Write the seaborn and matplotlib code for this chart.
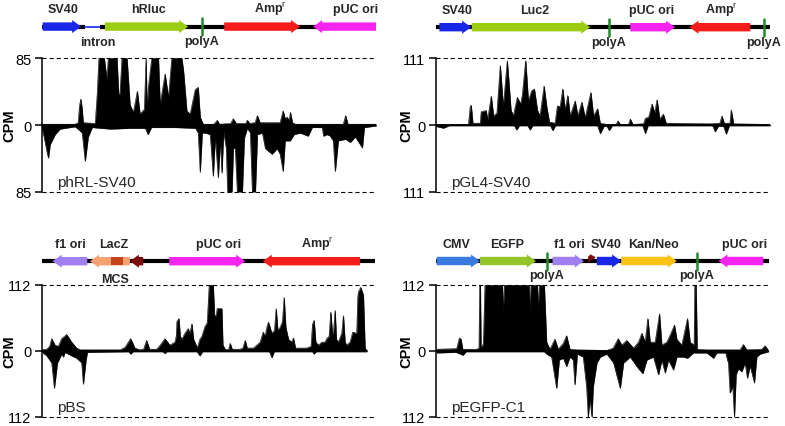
import numpy as np
import matplotlib
matplotlib.use("Agg")
import matplotlib.pyplot as plt
import seaborn as sns
from matplotlib.patches import Polygon, Rectangle

# ------------------------------------------------------------------
# coverage: (position in % of plasmid length, CPM)
# forward strand is drawn up, reverse strand down

phrl_fwd = [(0, 1), (10, 1), (10.9, 3), (11.3, 25), (11.7, 33), (12.1, 20), (12.4, 3), (16.0, 2),
            (16.6, 40), (17.1, 85), (18.7, 85), (19.5, 58), (19.9, 85), (22.5, 85), (23.0, 39),
            (23.4, 40), (24.0, 85), (25.5, 85), (26.4, 26), (27.4, 16), (28.6, 43), (29.4, 14),
            (30.7, 20), (31.2, 85), (31.5, 20), (31.9, 48), (32.9, 85), (34.9, 85), (35.4, 26),
            (36.9, 65), (37.9, 35), (38.9, 85), (41.9, 85), (42.4, 69), (43.4, 18), (44.4, 14),
            (45.9, 45), (46.8, 48), (47.4, 10), (48.3, 1), (51.5, 1), (52.5, 6), (53.2, 1),
            (56.5, 2), (57.3, 8), (58.2, 2), (61.0, 2), (61.5, 6), (62.2, 2), (63.8, 3), (64.5, 12),
            (65.3, 3), (71.3, 3), (72.2, 18), (72.8, 8), (73.4, 10), (74.0, 6), (74.4, 16), (75.0, 3),
            (75.9, 1), (90.2, 1), (90.9, 12), (91.6, 1), (100, 1)]
phrl_rev = [(0, -3), (0.7, -15), (1.6, -35), (2.0, -42), (2.5, -25), (4.0, -12), (5.5, -5), (10, -2),
            (12.1, -10), (13.0, -46), (13.9, -15), (15.1, -3), (20.5, -5), (26.4, -4), (31.0, -4),
            (31.8, -12), (32.8, -3), (39.9, -3), (46.0, -4), (46.8, -10), (47.4, -60), (48.0, -10),
            (48.9, -10), (50.4, -12), (51.3, -65), (51.9, -15), (52.8, -67), (53.4, -20), (53.9, -61),
            (54.4, -8), (55.2, -30), (55.6, -85), (56.9, -85), (57.3, -29), (57.9, -30), (58.5, -85),
            (60.0, -85), (60.6, -16), (61.5, -4), (62.4, -10), (63.0, -85), (63.9, -85), (64.5, -12),
            (66.0, -10), (66.9, -30), (68.9, -37), (70.4, -30), (71.3, -37), (72.2, -59), (72.8, -20),
            (74.3, -20), (75.5, -12), (77.3, -10), (79.7, -14), (80.9, -3), (83.9, -3), (84.3, -14),
            (85.4, -12), (86.3, -14), (87.2, -20), (87.8, -59), (88.7, -20), (90.9, -18), (92.3, -22),
            (93.8, -15), (95.3, -25), (95.9, -29), (96.5, -3), (100, -1)]

pgl4_fwd = [(0, 1), (9.8, 1), (10.3, 30), (10.6, 33), (11.1, 3), (13.3, 3), (13.6, 22), (15.1, 24),
            (15.5, 8), (16.6, 48), (17.3, 15), (18.3, 20), (19.3, 99), (20.2, 30), (21.4, 107),
            (22.5, 25), (23.2, 15), (24.4, 46), (25.4, 35), (25.9, 50), (26.9, 107), (27.7, 40),
            (28.7, 57), (29.5, 60), (30.4, 25), (31.2, 15), (32.4, 65), (33.2, 30), (34.0, 5),
            (35.7, 3), (36.4, 32), (37.2, 30), (38.0, 60), (38.7, 25), (39.5, 49), (40.2, 15),
            (41.7, 40), (42.5, 15), (43.7, 38), (44.7, 12), (46.4, 54), (47.2, 15), (48.4, 27),
            (49.2, 3), (51.2, 1), (54.0, 1), (54.5, 7), (55.2, 1), (57.7, 1), (58.2, 10), (59.0, 1),
            (62.2, 2), (62.7, 11), (63.7, 13), (64.7, 35), (65.5, 20), (66.2, 42), (67.0, 10),
            (68.1, 18), (68.9, 3), (82.1, 2), (85.0, 3), (85.6, 15), (86.3, 3), (88.0, 3), (88.4, 25),
            (89.1, 2), (100, 1)]
pgl4_rev = [(0, -2), (2.3, -5), (4.0, -1), (23.5, -1), (24.2, -8), (25.0, -1), (27.5, -1), (28.2, -8),
            (29.0, -1), (34.3, -1), (35.0, -9), (35.8, -1), (48.4, -1), (49.2, -14), (50.3, -2),
            (51.2, -2), (51.9, -9), (52.8, -1), (61.9, -1), (62.7, -14), (63.5, -1), (82.8, -1),
            (83.6, -11), (84.5, -2), (86.1, -2), (86.9, -15), (87.8, -1), (100, -1)]

pbs_fwd = [(0.1, 2), (1.4, 3), (2.3, 8), (2.9, 21), (3.9, 10), (4.9, 8), (5.9, 21), (7.4, 28),
           (8.9, 15), (10.4, 5), (11.5, 2), (23.4, 2), (24.9, 6), (26.6, 21), (27.9, 5), (29.4, 2),
           (30.5, 3), (31.4, 18), (32.3, 3), (34.4, 3), (35.5, 10), (36.9, 21), (38.4, 10), (39.9, 15),
           (40.3, 25), (40.5, 50), (41.1, 55), (41.5, 25), (42.0, 20), (42.9, 30), (43.9, 38),
           (44.4, 30), (45.0, 46), (45.5, 20), (45.9, 15), (46.6, 5), (47.4, 20), (48.0, 25),
           (48.9, 41), (49.6, 48), (50.2, 112), (51.4, 112), (51.8, 60), (52.3, 60), (52.6, 72),
           (54.0, 72), (54.3, 10), (55.0, 3), (56.0, 2), (56.5, 13), (57.1, 3), (59.5, 3), (60.3, 5),
           (61.0, 18), (61.6, 5), (63.5, 5), (64.5, 10), (65.5, 15), (66.4, 32), (67.0, 25), (67.5, 40),
           (68.0, 49), (69.0, 30), (69.8, 35), (70.3, 72), (70.8, 35), (71.5, 40), (72.2, 50),
           (72.7, 91), (73.2, 40), (74.0, 20), (75.0, 15), (75.5, 22), (76.1, 5), (79.5, 5), (80.8, 8),
           (81.2, 45), (81.7, 52), (82.2, 15), (83.0, 10), (84.0, 15), (85.0, 15), (85.5, 21),
           (86.2, 25), (86.7, 66), (87.2, 30), (87.5, 30), (88.0, 69), (88.4, 20), (89.0, 15),
           (90.0, 30), (90.5, 60), (91.0, 15), (91.5, 10), (92.5, 15), (93.3, 32), (94.5, 30),
           (94.8, 90), (95.0, 100), (95.7, 108), (96.5, 95), (97.0, 5), (97.5, 1)]
pbs_rev = [(0.1, -2), (1.4, -8), (2.9, -20), (3.7, -63), (4.6, -20), (5.9, -5), (6.4, -10), (6.9, -2),
           (8.9, -8), (10.4, -12), (11.9, -20), (12.4, -56), (13.2, -15), (13.6, -2), (26.0, -1),
           (26.6, -5), (27.3, -1), (36.3, -1), (36.9, -4), (37.5, -1), (46.5, -1), (47.4, -8),
           (48.2, -1), (68.3, -1), (69.0, -11), (69.7, -1), (81.2, -1), (81.7, -5), (82.3, -1),
           (97.5, -1)]

pegfp_fwd = [(0.2, 3), (6.2, 4), (7.0, 22), (7.5, 20), (8.0, 3), (12.2, 3), (12.9, 5), (13.1, 112),
             (13.3, 112), (13.5, 5), (14.2, 12), (14.7, 112), (19.9, 112), (20.2, 66), (20.5, 112),
             (27.9, 112), (28.2, 70), (28.5, 112), (30.4, 112), (30.7, 70), (31.0, 112), (32.5, 112),
             (33.2, 15), (34.2, 3), (35.7, 20), (36.7, 3), (38.2, 13), (39.2, 26), (40.2, 3),
             (42.3, 2), (51.3, 1), (53.2, 5), (54.7, 21), (55.8, 10), (57.3, 18), (59.3, 5), (60.8, 15),
             (61.8, 30), (62.8, 15), (63.6, 55), (64.3, 15), (65.8, 15), (67.1, 63), (67.8, 10),
             (69.3, 15), (70.3, 27), (71.6, 44), (72.3, 20), (73.8, 10), (75.5, 55), (76.3, 15),
             (77.5, 10), (77.7, 112), (78.1, 112), (78.4, 3), (81.3, 2), (91.3, 2), (92.3, 11),
             (93.3, 2), (97.8, 3), (98.8, 9), (99.8, 1)]
pegfp_rev = [(0.2, -3), (6, -2), (8.1, -7), (9, -1), (32.5, -1), (33.2, -5), (34.7, -10), (36.2, -63),
             (37.0, -15), (38.2, -12), (39.2, -26), (40.2, -10), (41.2, -15), (41.7, -57), (42.4, -5),
             (44.2, -10), (45.2, -60), (45.7, -112), (46.2, -80), (46.8, -112), (47.2, -60),
             (48.3, -20), (49.3, -10), (51.3, -5), (53.3, -20), (55.3, -63), (56.3, -20), (58.3, -10),
             (60.8, -30), (62.1, -38), (63.3, -15), (65.3, -10), (66.8, -40), (67.8, -15), (68.8, -37),
             (69.8, -15), (71.3, -32), (72.3, -10), (74.3, -10), (75.5, -12), (77.3, -3), (81.3, -3),
             (83.3, -12), (84.3, -3), (87.0, -3), (87.5, -15), (87.8, -20), (88.3, -71), (89.1, -60),
             (89.6, -112), (90.1, -40), (90.8, -30), (91.8, -35), (92.8, -20), (93.5, -46), (94.3, -25),
             (95.6, -54), (96.3, -10), (97.3, -5), (99.8, -1)]

# ------------------------------------------------------------------
# plasmid maps: feature, start/end (% of length), strand, label centre

phrl_feat = ['SV40', 'hRluc', r'Amp$^\mathrm{r}$', 'pUC ori']
phrl_kind = ['sv40', 'luc', 'amp', 'ori']
phrl_start = [0.3, 18.9, 54.6, 81.2]
phrl_end = [11.8, 43.8, 77.3, 100]
phrl_strand = [1, 1, 1, -1]
phrl_label_at = [6.4, 31.8, 68.4, 93.8]
phrl_polya = [47.9]
phrl_intron = (13.1, 17.5)
phrl_intron_label_at = 16.9

pgl4_feat = ['SV40', 'Luc2', 'pUC ori', r'Amp$^\mathrm{r}$']
pgl4_kind = ['sv40', 'luc', 'ori', 'amp']
pgl4_start = [1.1, 10.8, 58.2, 75.9]
pgl4_end = [10.6, 46.2, 71.6, 94.1]
pgl4_strand = [1, 1, 1, -1]
pgl4_label_at = [6.3, 29.7, 64.7, 85.6]
pgl4_polya = [51.7, 98.2]

pbs_feat = ['f1 ori', 'LacZ', '', 'pUC ori', r'Amp$^\mathrm{r}$']
pbs_kind = ['f1', 'lacz', 'plac', 'ori', 'amp']
pbs_start = [3.2, 14.4, 26.4, 38.2, 66.3]
pbs_end = [13.6, 26.4, 30.4, 61.0, 95.5]
pbs_strand = [-1, -1, -1, 1, -1]
pbs_label_at = [8.6, 21.6, 28.4, 53.0, 82.6]
pbs_mcs = (20.7, 24.4)

pegfp_feat = ['CMV', 'EGFP', 'f1 ori', 'SV40', 'Kan/Neo', 'pUC ori']
pegfp_kind = ['cmv', 'egfp', 'f1', 'sv40', 'kan', 'ori']
pegfp_start = [0.2, 13.2, 35.0, 48.3, 55.6, 84.8]
pegfp_end = [13.2, 30.0, 44.4, 55.6, 72.3, 98.3]
pegfp_strand = [1, 1, 1, 1, 1, -1]
pegfp_label_at = [6.2, 21.4, 40.2, 51.0, 65.2, 92.8]
pegfp_polya = [33.2, 78.3]
pegfp_promoter = 45.8

colours = {'sv40': '#1a26e6', 'cmv': '#3a7ae0', 'luc': '#9acd12', 'egfp': '#93c42a',
           'amp': '#f51c1c', 'ori': '#f524ef', 'f1': '#a07ff0', 'lacz': '#f5a273',
           'plac': '#7a0a0a', 'kan': '#fcc314', 'mcs': '#c4421c', 'polya': '#1e8a28'}

sns.set_theme(style="white")
plt.rcParams['font.family'] = ['Liberation Sans', 'DejaVu Sans']
plt.rcParams['mathtext.fontset'] = 'custom'
plt.rcParams['mathtext.rm'] = 'Liberation Sans'
plt.rcParams['mathtext.bf'] = 'Liberation Sans:bold'

W, H = 785, 427
fig = plt.figure(figsize=(W / 100, H / 100), dpi=100)


def px_axes(left, top, right, bottom):
    return fig.add_axes([left / W, 1 - bottom / H, (right - left) / W, (bottom - top) / H])


def arrow(ax, start, end, strand, y, colour, unit):
    head = min(9 / unit, end - start)
    body, hh = 4.2, 6.5
    if strand > 0:
        xs = [start, end - head, end - head, end, end - head, end - head, start]
    else:
        xs = [end, start + head, start + head, start, start + head, start + head, end]
    ys = [y - body, y - body, y - hh, y, y + hh, y + body, y + body]
    ax.add_patch(Polygon(list(zip(xs, ys)), closed=True, fc=colour, ec='none', zorder=3))


def draw_map(ax, y, feats, kinds, starts, ends, strands, label_at, polya,
             intron=None, intron_label_at=None, unit=3.34):
    ax.set_xlim(0, 100)
    ax.axis('off')
    if intron:
        ax.plot([0, intron[0]], [y, y], color='black', lw=3, solid_capstyle='butt', zorder=2)
        ax.plot([intron[1], 100], [y, y], color='black', lw=3, solid_capstyle='butt', zorder=2)
        ax.plot(intron, [y, y], color=colours['sv40'], lw=1.2, zorder=2)
        ax.text(intron_label_at, y + 18.5, 'intron', ha='center', va='baseline',
                fontsize=9, fontweight='bold')
    else:
        ax.plot([0, 100], [y, y], color='black', lw=3, solid_capstyle='butt', zorder=2)
    for f, k, s, e, d, lx in zip(feats, kinds, starts, ends, strands, label_at):
        arrow(ax, s, e, d, y, colours[k], unit)
        if f:
            ax.text(lx, y - 14.2, f, ha='center', va='baseline', fontsize=9, fontweight='bold')
    for p in polya:
        ax.plot([p, p], [y - 8.5, y + 8.5], color=colours['polya'], lw=1.8, zorder=4)
        ax.text(p, y + 17.5, 'polyA', ha='center', va='baseline', fontsize=9, fontweight='bold')


def draw_track(ax, fwd, rev, ymax, name, label_x):
    fwd_pos, fwd_cpm = zip(*fwd)
    rev_pos, rev_cpm = zip(*rev)
    ax.fill_between(fwd_pos, 0, fwd_cpm, color='black', lw=0.3, zorder=2)
    ax.fill_between(rev_pos, rev_cpm, 0, color='black', lw=0.3, zorder=2)
    sns.lineplot(x=list(fwd_pos), y=list(fwd_cpm), ax=ax, color='black', lw=0.4, zorder=2)
    sns.lineplot(x=list(rev_pos), y=list(rev_cpm), ax=ax, color='black', lw=0.4, zorder=2)
    ax.plot([0, max(fwd_pos[-1], rev_pos[-1])], [0, 0], color='black', lw=1.2, zorder=3)
    for yv in (ymax, -ymax):
        ax.plot([0, 100], [yv, yv], color='black', lw=0.8, ls=(0, (3.7, 2.7)),
                clip_on=False, zorder=1)
    ax.set_xlim(0, 100)
    ax.set_ylim(-ymax, ymax)
    ax.set_xticks([])
    ax.set_yticks([-ymax, 0, ymax])
    ax.set_yticklabels([str(ymax), '0', str(ymax)])
    sns.despine(ax=ax, bottom=True)
    ax.spines['left'].set_color('black')
    ax.spines['left'].set_linewidth(1.1)
    ax.tick_params(axis='y', left=True, length=5, width=1.1, pad=2.5,
                   labelsize=10.5, colors='black')
    ax.set_ylabel('CPM', fontsize=10.5, fontweight='bold', color='black')
    ax.yaxis.set_label_coords(label_x, 0.5)
    ax.text(0.045, 0.045, name, transform=ax.transAxes, fontsize=11, va='baseline')
    ax.set_facecolor('none')


# top left: phRL-SV40
m = px_axes(41.7, 0, 376, 55)
m.set_ylim(55, 0)
draw_map(m, 27.6, phrl_feat, phrl_kind, phrl_start, phrl_end, phrl_strand,
         phrl_label_at, phrl_polya, intron=phrl_intron, intron_label_at=phrl_intron_label_at)
a = px_axes(41.7, 59.3, 376, 192.7)
draw_track(a, phrl_fwd, phrl_rev, 85, 'phRL-SV40', -0.076)

# top right: pGL4-SV40
m = px_axes(435.7, 0, 770, 55)
m.set_ylim(55, 0)
draw_map(m, 28.2, pgl4_feat, pgl4_kind, pgl4_start, pgl4_end, pgl4_strand,
         pgl4_label_at, pgl4_polya)
a = px_axes(435.7, 59.3, 770, 192.7)
draw_track(a, pgl4_fwd, pgl4_rev, 111, 'pGL4-SV40', -0.068)

# bottom left: pBS
m = px_axes(42, 228, 375, 285)
m.set_ylim(285, 228)
draw_map(m, 262.2, pbs_feat, pbs_kind, pbs_start, pbs_end, pbs_strand,
         pbs_label_at, [], unit=3.33)
m.add_patch(Rectangle((pbs_mcs[0], 262.2 - 4.2), pbs_mcs[1] - pbs_mcs[0], 8.4,
                      fc=colours['mcs'], ec='none', zorder=4))
m.text(sum(pbs_mcs) / 2 - 0.5, 283, 'MCS', ha='center', va='baseline', fontsize=9,
       fontweight='bold')
a = px_axes(42, 286, 375, 418)
draw_track(a, pbs_fwd, pbs_rev, 112, 'pBS', -0.078)

# bottom right: pEGFP-C1
m = px_axes(436, 228, 769, 285)
m.set_ylim(285, 228)
draw_map(m, 262, pegfp_feat, pegfp_kind, pegfp_start, pegfp_end, pegfp_strand,
         pegfp_label_at, pegfp_polya, unit=3.33)
m.plot([pegfp_promoter, pegfp_promoter, pegfp_promoter + 0.6], [263, 257.5, 257.5],
       color=colours['plac'], lw=1.3, zorder=5)
m.plot([pegfp_promoter + 0.9], [257.5], marker='>', ms=3.5, color=colours['plac'], zorder=5)
a = px_axes(436, 286, 769, 418)
draw_track(a, pegfp_fwd, pegfp_rev, 112, 'pEGFP-C1', -0.069)

fig.savefig('out.png', dpi=100)
